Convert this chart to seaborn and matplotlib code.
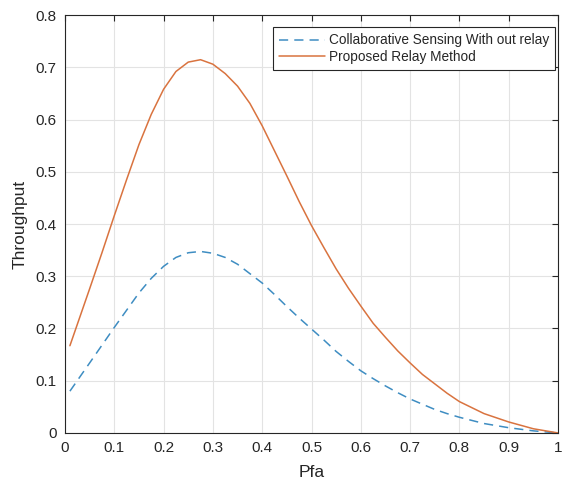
import numpy as np
import pandas as pd
import matplotlib
matplotlib.use("Agg")
import matplotlib.pyplot as plt
import seaborn as sns

# Values
pfa = [0.01, 0.05, 0.075, 0.10, 0.125, 0.15, 0.175, 0.20, 0.225, 0.25, 0.275,
       0.30, 0.325, 0.35, 0.375, 0.40, 0.425, 0.45, 0.475, 0.50, 0.525, 0.55,
       0.575, 0.60, 0.625, 0.65, 0.675, 0.70, 0.725, 0.75, 0.775, 0.80, 0.85,
       0.90, 0.95, 1.00]
collab = [0.080, 0.134, 0.168, 0.202, 0.235, 0.268, 0.296, 0.319, 0.336, 0.345, 0.3475,
          0.344, 0.336, 0.323, 0.305, 0.287, 0.265, 0.242, 0.220, 0.199, 0.178, 0.156,
          0.137, 0.119, 0.104, 0.090, 0.077, 0.065, 0.055, 0.045, 0.037, 0.030, 0.018,
          0.010, 0.004, 0.0]
relay = [0.167, 0.276, 0.345, 0.416, 0.485, 0.552, 0.610, 0.658, 0.692, 0.710, 0.7146,
         0.706, 0.688, 0.664, 0.631, 0.588, 0.540, 0.492, 0.443, 0.397, 0.355, 0.314,
         0.277, 0.243, 0.210, 0.183, 0.157, 0.134, 0.112, 0.094, 0.076, 0.060, 0.037,
         0.021, 0.008, 0.0]

sns.set_style("white")
plt.rcParams["font.family"] = ["Liberation Sans", "DejaVu Sans"]

df = pd.DataFrame({"pfa": pfa, "collab": collab, "relay": relay})

fig = plt.figure(figsize=(5.7, 4.87), dpi=100)
ax = fig.add_axes([0.114, 0.111, 0.865, 0.858])

sns.lineplot(x="pfa", y="collab", data=df, ax=ax, color="#3E8DC2", linewidth=1.1,
             linestyle=(0, (6, 4)), label="Collaborative Sensing With out relay")
sns.lineplot(x="pfa", y="relay", data=df, ax=ax, color="#D9733F", linewidth=1.1,
             label="Proposed Relay Method")

ax.set_xlim(0, 1)
ax.set_ylim(0, 0.8)
ax.set_xticks(np.arange(0, 1.01, 0.1))
ax.set_yticks(np.arange(0, 0.81, 0.1))
ax.set_xticklabels(["0", "0.1", "0.2", "0.3", "0.4", "0.5", "0.6", "0.7", "0.8", "0.9", "1"])
ax.set_yticklabels(["0", "0.1", "0.2", "0.3", "0.4", "0.5", "0.6", "0.7", "0.8"])
ax.grid(True, color="#E3E3E3", linewidth=0.8)
ax.set_axisbelow(True)
for s in ax.spines.values():
    s.set_color("#262626")
    s.set_linewidth(0.8)
ax.tick_params(direction="in", length=4, width=0.8, color="#262626", labelcolor="#262626",
               labelsize=11, top=True, right=True, pad=6)
ax.set_xlabel("Pfa", fontsize=12.5, color="#262626", labelpad=7)
ax.set_ylabel("Throughput", fontsize=12.5, color="#262626", labelpad=6)

leg = ax.legend(loc="upper right", bbox_to_anchor=(0.994, 0.971), fontsize=9.8, frameon=True,
                fancybox=False, edgecolor="#262626", framealpha=1, borderpad=0.45,
                handlelength=3.4, handletextpad=0.25, labelspacing=0.2, borderaxespad=0)
leg.get_frame().set_linewidth(0.8)

plt.savefig("out.png", dpi=100)
plt.close()
